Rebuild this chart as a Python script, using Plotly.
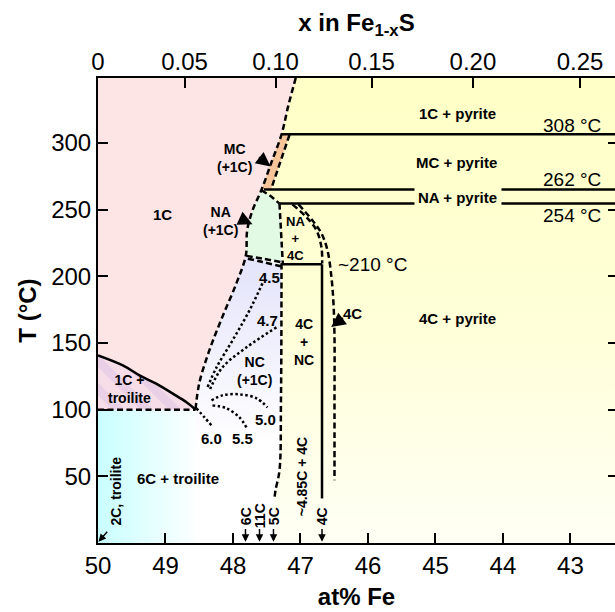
import plotly.graph_objects as go

# ---------------- axis extents / ticks ----------------
FE_LEFT, FE_RIGHT = 50.0, 42.34
T_LOW, T_HIGH = 0.0, 348.7
fe_ticks = [50, 49, 48, 47, 46, 45, 44, 43]
t_ticks = [50, 100, 150, 200, 250, 300]
x_top_vals = [0, 0.05, 0.10, 0.15, 0.20, 0.25]
x_top_text = ["0", "0.05", "0.10", "0.15", "0.20", "0.25"]

# ---------------- phase boundaries (at% Fe, T in °C) ----------------
# 1C / (MC, NA, NC) dashed boundary, top to troilite point
b1c_fe = [47.07, 47.18, 47.28, 47.43, 47.58, 47.71, 47.79, 47.81, 47.95, 48.16, 48.35, 48.50, 48.555]
b1c_t = [348.7, 328.0, 306.5, 285.5, 264.5, 249.5, 234.4, 215.5, 194.7, 169.2, 144.5, 119.7, 100.0]
# MC right boundary
mc_fe = [47.163, 47.311, 47.434]
mc_t = [306.0, 284.7, 265.5]
# NA top boundary
nat_fe = [47.578, 47.459, 47.311]
nat_t = [264.5, 260.7, 254.5]
# NA right boundary
nar_fe = [47.311, 47.289, 47.262]
nar_t = [254.5, 232.2, 209.5]
# NA / NC double boundary
nanc1_fe = [47.80, 47.56, 47.29]
nanc1_t = [215.3, 213.2, 210.7]
nanc2_fe = [47.78, 47.56, 47.29]
nanc2_t = [213.2, 210.7, 207.5]
# NC / (4C+NC) dashed boundary down to 5C
b5c_fe = [47.281, 47.289, 47.311, 47.37, 47.385]
b5c_t = [209.7, 107.0, 54.5, 39.5, 33.5]
# 4C double dashed boundaries
c4l_fe = [47.119, 46.896, 46.763, 46.689, 46.679]
c4l_t = [253.9, 243.5, 234.5, 221.7, 209.7]
c4r_fe = [47.030, 46.822, 46.689, 46.600, 46.541, 46.511, 46.496, 46.496, 46.496]
c4r_t = [253.9, 241.9, 232.2, 219.4, 199.2, 179.7, 154.2, 107.0, 47.0]
# troilite solvus (solid)
tro_fe = [50.0, 49.632, 49.385, 49.138, 48.891, 48.693, 48.555]
tro_t = [140.7, 133.2, 125.7, 119.5, 112.0, 105.7, 100.0]
# invariant lines
t308, t262, t254, t210 = 306.5, 265.0, 254.5, 209.0
line308_fe = [47.281, FE_RIGHT]
line262_fe = [[47.54, 45.311], [44.022, FE_RIGHT]]
line254_fe = [[47.311, 45.311], [44.022, FE_RIGHT]]
line210_fe = [47.281, 46.681]
v4c_fe, v4c_t = [46.681, 46.681], [209.0, 33.4]
line100_fe, t100 = [50.0, 48.555], 100.0
# NC composition contours (dotted)
contours = {
    "4.5": ([47.563, 47.756, 48.007, 48.244, 48.378], [194.7, 174.4, 151.9, 131.7, 116.7]),
    "4.7": ([47.356, 47.800, 48.156, 48.348], [161.7, 146.7, 131.7, 114.5]),
    "5.0": ([48.319, 48.156, 47.904, 47.652, 47.489], [107.0, 110.7, 111.5, 108.5, 101.7]),
    "5.5": ([48.304, 48.096, 47.904, 47.800], [103.2, 101.0, 94.2, 86.7]),
    "6.0": ([48.541, 48.422, 48.319], [101.0, 94.2, 88.2]),
}

# ---------------- labels ----------------
region_labels = [
    ("1C", 49.044, 246.4), ("6C + troilite", 48.822, 48.5),
    ("4.5", 47.456, 199.2), ("4.7", 47.489, 167.0),
    ("5.0", 47.52, 92.7), ("5.5", 47.86, 78.5), ("6.0", 48.32, 78.5),
    ("4C", 46.23, 172.2), ("1C + pyrite", 44.674, 322.0), ("MC + pyrite", 44.69, 285.3),
    ("NA + pyrite", 44.674, 259.2), ("4C + pyrite", 44.674, 168.5),
]
stacked_labels = [
    ("1C +<br>troilite", 49.53, 115.5, 14), ("MC<br>(+1C)", 47.98, 288.8, 14),
    ("NA<br>(+1C)", 48.18, 241.1, 14), ("NC<br>(+1C)", 47.681, 128.9, 14),
    ("NA<br>+<br>4C", 47.07, 228.3, 13), ("4C<br>+<br>NC", 46.941, 150.7, 14),
]
temp_labels = [("308 °C", 42.978, 313.0), ("262 °C", 42.978, 272.5), ("254 °C", 42.978, 245.7)]
temp210 = ("~210 °C", 46.467, 208.9)
rot_labels = [("6C", 47.815, 20.5), ("11C", 47.607, 20.5), ("5C", 47.40, 20.5),
              ("~4.85C + 4C", 46.978, 50.0), ("4C", 46.681, 20.0), ("2C, troilite", 49.74, 39.0)]
# arrows: (head_fe, head_t, tail_fe, tail_t, width, size)
arrows = [
    (47.444, 282.4, 47.637, 290.0, 2.2, 1.3),
    (47.711, 239.0, 47.904, 243.5, 2.2, 1.3),
    (46.545, 161.9, 46.348, 169.4, 2.2, 1.3),
    (47.815, 1.0, 47.815, 11.7, 1.5, 1.0),
    (47.607, 1.0, 47.607, 11.7, 1.5, 1.0),
    (47.40, 1.0, 47.40, 11.7, 1.5, 1.0),
    (46.681, 1.0, 46.681, 11.7, 1.5, 1.0),
    (49.993, 1.0, 49.844, 9.5, 1.5, 1.0),
]

FONT = "Arial, 'Liberation Sans', sans-serif"
DASH = "6px,3.5px"
DOT = "2.5px,2.5px"

fig = go.Figure()


def poly(xs, ys, **kw):
    fig.add_trace(go.Scatter(x=xs, y=ys, mode="lines", fill="toself", line=dict(width=0),
                             hoverinfo="skip", showlegend=False, **kw))


def line(xs, ys, dash="solid", width=2.5, shape="linear"):
    fig.add_trace(go.Scatter(x=xs, y=ys, mode="lines",
                             line=dict(color="black", width=width, dash=dash, shape=shape),
                             hoverinfo="skip", showlegend=False))


# ---- region fills ----
# yellow (pyrite side)
yel_x = [b1c_fe[0], FE_RIGHT, FE_RIGHT, b5c_fe[-1]] + b5c_fe[::-1] + nar_fe[::-1] + nat_fe[::-1][1:] + b1c_fe[3::-1]
yel_y = [T_HIGH, T_HIGH, T_LOW, T_LOW] + b5c_t[::-1] + nar_t[::-1] + nat_t[::-1][1:] + b1c_t[3::-1]
poly(yel_x, yel_y, fillgradient=dict(type="vertical", start=T_LOW, stop=T_HIGH,
                                     colorscale=[[0, "#fffff5"], [0.45, "#ffffd9"], [1, "#ffffc6"]]))
# pink 1C
poly([FE_LEFT] + b1c_fe + [FE_LEFT], [T_HIGH] + b1c_t + [t100], fillcolor="#fde4e5")
# MC orange
poly([b1c_fe[2], mc_fe[0], mc_fe[2], b1c_fe[4], b1c_fe[3]],
     [b1c_t[2], mc_t[0], mc_t[2], b1c_t[4], b1c_t[3]], fillcolor="#f8c59b")
# NA green
poly(b1c_fe[4:8] + [nanc1_fe[-1]] + nar_fe[::-1][1:] + nat_fe[::-1][1:],
     b1c_t[4:8] + [nanc1_t[-1]] + nar_t[::-1][1:] + nat_t[::-1][1:], fillcolor="#e2f9e3")
# NC lavender
nc_x = b1c_fe[7:] + [b1c_fe[-1], 47.289, 47.28, b1c_fe[7]]
nc_y = b1c_t[7:] + [73.0, 73.0, nanc2_t[-1], b1c_t[7]]
poly(nc_x, nc_y, fillgradient=dict(type="vertical", start=73.0, stop=215.0,
                                   colorscale=[[0, "#ffffff"], [1, "#e3e3fb"]]))
# 6C + troilite cyan
poly([FE_LEFT, line100_fe[1], line100_fe[1], FE_LEFT], [T_LOW, T_LOW, t100, t100],
     fillgradient=dict(type="horizontal", start=50.0, stop=48.45,
                       colorscale=[[0, "#c9ffff"], [1, "#ffffff"]]))
# 1C + troilite hatched
poly(tro_fe + [FE_LEFT], tro_t + [t100],
     fillpattern=dict(shape="\\", fgcolor="#dcc4e6", bgcolor="#f6dde8", size=20, solidity=0.45))

# ---- boundary lines ----
line(b1c_fe, b1c_t, DASH, shape="spline")
line(mc_fe, mc_t, DASH)
line(nat_fe, nat_t, DASH, shape="spline")
line(nar_fe, nar_t, DASH)
line(nanc1_fe, nanc1_t, DASH, shape="spline")
line(nanc2_fe, nanc2_t, DASH, shape="spline")
line(b5c_fe, b5c_t, DASH, shape="spline")
line(c4l_fe, c4l_t, DASH, shape="spline")
line(c4r_fe, c4r_t, DASH, shape="spline")
line(line100_fe, [t100, t100], DASH)
for xs, ys in contours.values():
    line(xs, ys, DOT, width=2.5, shape="spline")
line(tro_fe, tro_t, shape="spline")
line(line308_fe, [t308, t308])
for seg in line262_fe:
    line(seg, [t262, t262])
for seg in line254_fe:
    line(seg, [t254, t254])
line(line210_fe, [t210, t210])
line(v4c_fe, v4c_t)

# dummy trace for secondary axes
fig.add_trace(go.Scatter(x=[FE_LEFT], y=[T_LOW], xaxis="x2", yaxis="y2", mode="markers",
                         marker=dict(opacity=0), hoverinfo="skip", showlegend=False))

# ---- annotations ----
ann = []
for txt, x, y in region_labels:
    ann.append(dict(x=x, y=y, text=f"<b>{txt}</b>", showarrow=False,
                    font=dict(family=FONT, size=15, color="black")))
for txt, x, y, fs in stacked_labels:
    ann.append(dict(x=x, y=y, text=f"<b>{txt}</b>", showarrow=False,
                    font=dict(family=FONT, size=fs, color="black")))
for txt, x, y in temp_labels:
    ann.append(dict(x=x, y=y, text=txt, showarrow=False, font=dict(family=FONT, size=19, color="black")))
ann.append(dict(x=temp210[1], y=temp210[2], text=temp210[0], showarrow=False, xanchor="left",
                font=dict(family=FONT, size=19, color="black")))
for txt, x, y in rot_labels:
    ann.append(dict(x=x, y=y, text=f"<b>{txt}</b>", showarrow=False, textangle=-90,
                    font=dict(family=FONT, size=14, color="black")))
for hx, hy, tx, ty, w, s in arrows:
    ann.append(dict(x=hx, y=hy, ax=tx, ay=ty, axref="x", ayref="y", text="", showarrow=True,
                    arrowhead=2, arrowsize=s, arrowwidth=w, arrowcolor="black"))

top_pos = [100 * (1 - v) / (2 - v) for v in x_top_vals]

axis_common = dict(showgrid=False, zeroline=False, showline=True, linecolor="black", linewidth=2,
                   ticks="inside", ticklen=10, tickwidth=2, tickcolor="black",
                   tickfont=dict(family=FONT, size=24, color="black"))
TITLE_FONT = dict(family=FONT, size=24, color="black")

fig.update_layout(
    width=615, height=612,
    margin=dict(l=98, r=0, t=78, b=69),
    paper_bgcolor="white", plot_bgcolor="white",
    showlegend=False,
    annotations=ann,
    xaxis=dict(range=[FE_LEFT, FE_RIGHT], tickvals=fe_ticks, ticktext=[str(v) for v in fe_ticks],
               title=dict(text="<b>at% Fe</b>", font=TITLE_FONT, standoff=10),
               **axis_common),
    xaxis2=dict(range=[FE_LEFT, FE_RIGHT], overlaying="x", side="top", anchor="y",
                tickvals=top_pos, ticktext=x_top_text, ticklabelstandoff=-4,
                title=dict(text="<b>x in Fe<sub>1-x</sub>S</b>", font=TITLE_FONT, standoff=10),
                **axis_common),
    yaxis=dict(range=[T_LOW, T_HIGH], tickvals=t_ticks, ticktext=[str(v) for v in t_ticks],
               title=dict(text="<b>T (°C)</b>", font=TITLE_FONT, standoff=8),
               **axis_common),
    yaxis2=dict(range=[T_LOW, T_HIGH], overlaying="y", side="right", anchor="x", showgrid=False, zeroline=False,
                showline=False, ticks="inside", ticklen=7, tickwidth=2, tickcolor="black",
                tickvals=t_ticks, showticklabels=False),
)

fig.write_html("out.html")
